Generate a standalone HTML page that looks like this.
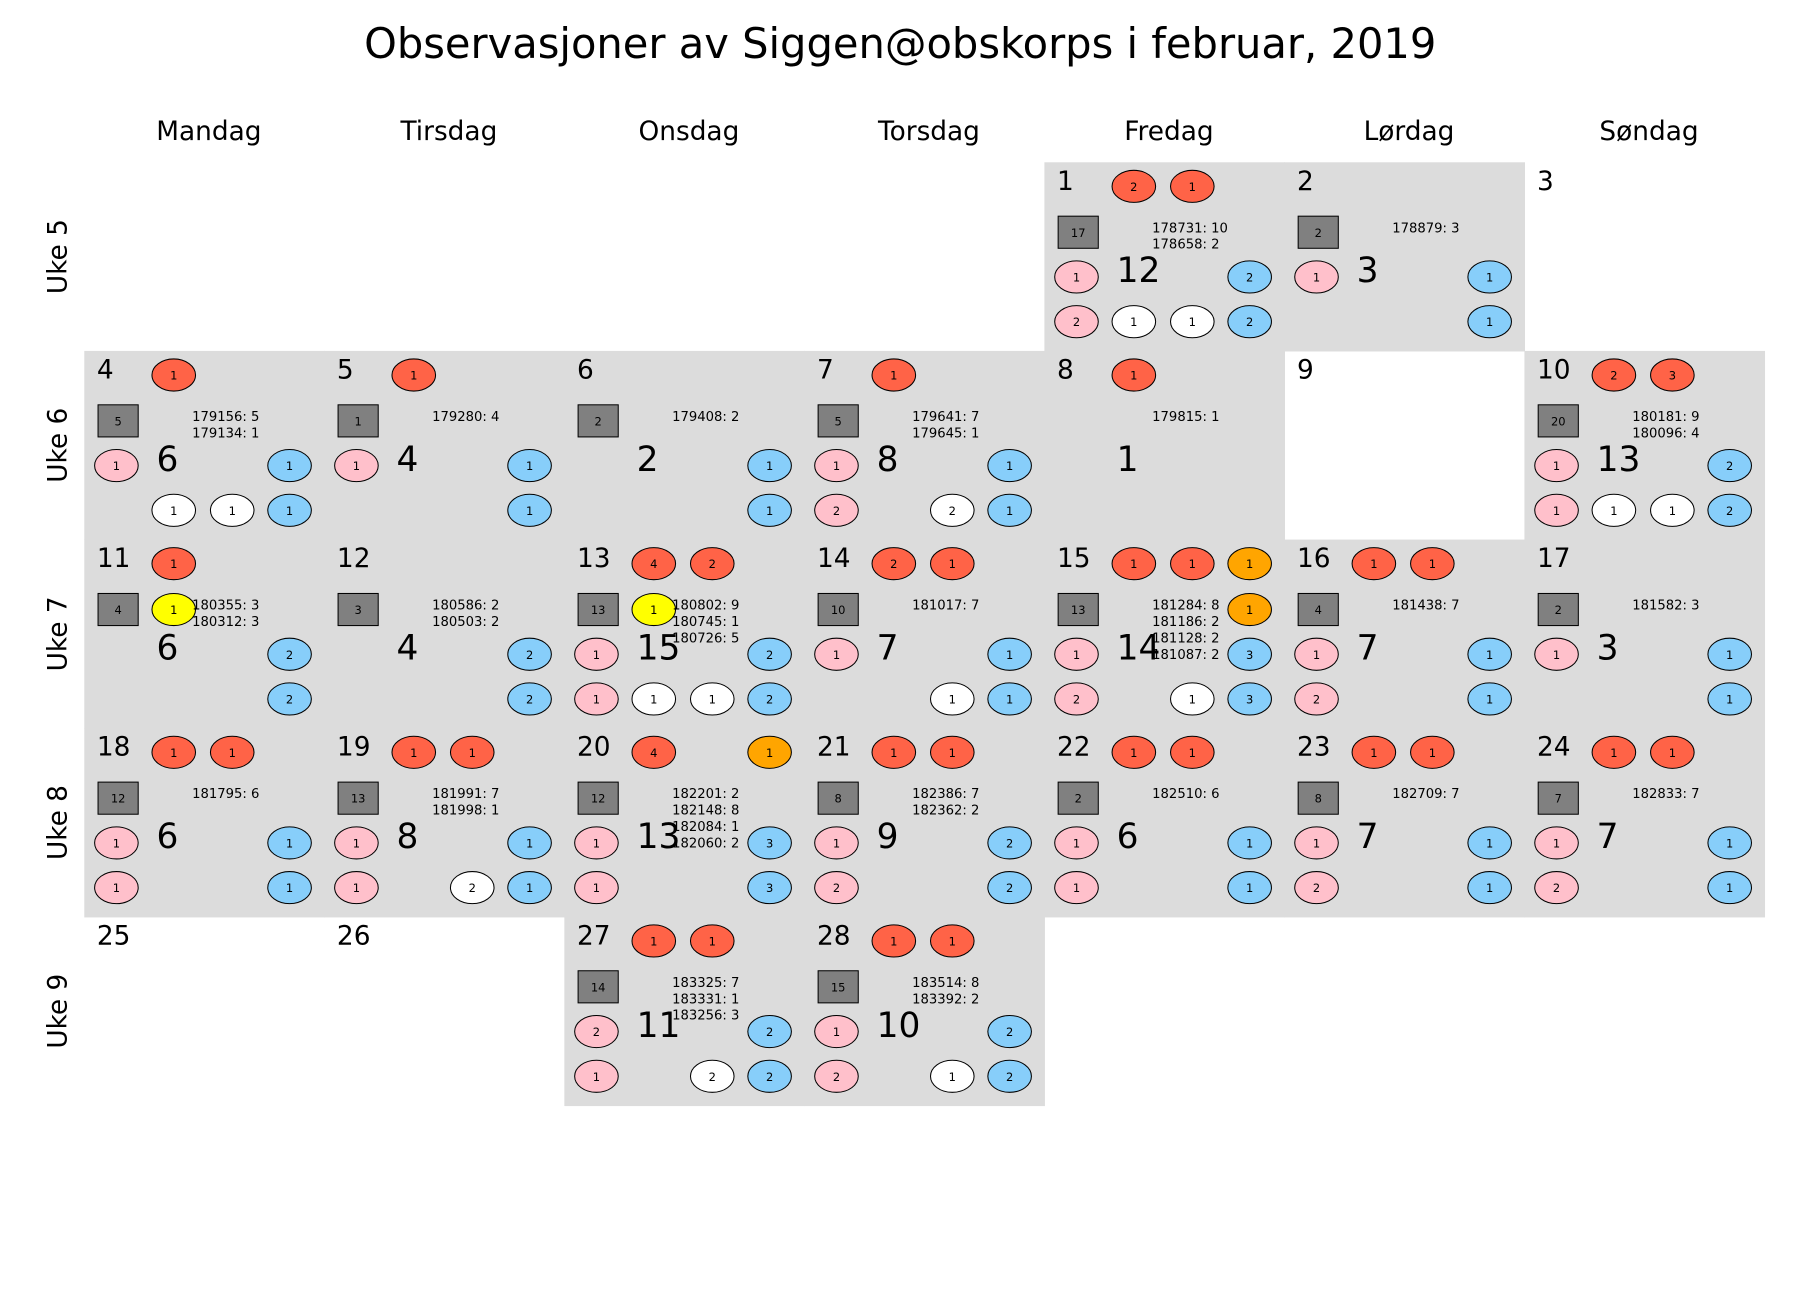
<!DOCTYPE html>
<html><head><meta charset="utf-8"><style>
html,body{margin:0;padding:0;background:#fff;}
svg{display:block;font-family:"DejaVu Sans","Liberation Sans",sans-serif;}
</style></head><body>
<svg id="cal" width="1800" height="1300" viewBox="0 0 1569.6 1133.6" xmlns="http://www.w3.org/2000/svg">
<text x="785" y="38" font-size="36.3" text-anchor="middle" dominant-baseline="central">Observasjoner av Siggen@obskorps i februar, 2019</text>
</svg>
<script>
const weekdays=["Mandag","Tirsdag","Onsdag","Torsdag","Fredag","Lørdag","Søndag"];
const weekLabels=["Uke 5","Uke 6","Uke 7","Uke 8","Uke 9"];
const days=[1,2,3,4,5,6,7,8,9,10,11,12,13,14,15,16,17,18,19,20,21,22,23,24,25,26,27,28];
const dayRow=[0,0,0,1,1,1,1,1,1,1,2,2,2,2,2,2,2,3,3,3,3,3,3,3,4,4,4,4];
const dayCol=[4,5,6,0,1,2,3,4,5,6,0,1,2,3,4,5,6,0,1,2,3,4,5,6,0,1,2,3];
const active=[1,1,0,1,1,1,1,1,0,1,1,1,1,1,1,1,1,1,1,1,1,1,1,1,0,0,1,1];
const topVals=[[2,1,null],[null,null,null],null,[1,null,null],[1,null,null],null,[1,null,null],[1,null,null],null,[2,3,null],
 [1,null,null],null,[4,2,null],[2,1,null],[1,1,1],[1,1,null],null,[1,1,null],[1,1,null],[4,null,1],[1,1,null],[1,1,null],[1,1,null],[1,1,null],null,null,[1,1,null],[1,1,null]];
const topColors=[null,null,null,null,null,null,null,null,null,null,null,null,null,null,"o",null,null,null,null,"o",null,null,null,null,null,null,null,null];
const squares=[17,2,null,5,1,2,5,null,null,20,4,3,13,10,13,4,2,12,13,12,8,2,8,7,null,null,14,15];
const yellows=[null,null,null,null,null,null,null,null,null,null,1,null,1,null,null,null,null,null,null,null,null,null,null,null,null,null,null,null];
const midOrange=[null,null,null,null,null,null,null,null,null,null,null,null,null,null,1,null,null,null,null,null,null,null,null,null,null,null,null,null];
const textLines=[["178731: 10","178658: 2"],["178879: 3"],[],["179156: 5","179134: 1"],["179280: 4"],["179408: 2"],["179641: 7","179645: 1"],["179815: 1"],[],["180181: 9","180096: 4"],
 ["180355: 3","180312: 3"],["180586: 2","180503: 2"],["180802: 9","180745: 1","180726: 5"],["181017: 7"],["181284: 8","181186: 2","181128: 2","181087: 2"],["181438: 7"],["181582: 3"],
 ["181795: 6"],["181991: 7","181998: 1"],["182201: 2","182148: 8","182084: 1","182060: 2"],["182386: 7","182362: 2"],["182510: 6"],["182709: 7"],["182833: 7"],[],[],["183325: 7","183331: 1","183256: 3"],["183514: 8","183392: 2"]];
const pinkTop=[1,1,null,1,1,null,1,null,null,1,null,null,1,1,1,1,1,1,1,1,1,1,1,1,null,null,2,1];
const pinkBot=[2,null,null,null,null,null,2,null,null,1,null,null,1,null,2,2,null,1,1,1,2,1,2,2,null,null,1,2];
const bigNums=[12,3,null,6,4,2,8,1,null,13,6,4,15,7,14,7,3,6,8,13,9,6,7,7,null,null,11,10];
const blueTop=[2,1,null,1,1,1,1,null,null,2,2,2,2,1,3,1,1,1,1,3,2,1,1,1,null,null,2,2];
const blueBot=[2,1,null,1,1,1,1,null,null,2,2,2,2,1,3,1,1,1,1,3,2,1,1,1,null,null,2,2];
const white1=[1,null,null,1,null,null,null,null,null,1,null,null,1,null,null,null,null,null,null,null,null,null,null,null,null,null,null,null];
const white2=[1,null,null,1,null,null,2,null,null,1,null,null,1,1,1,null,null,null,2,null,null,null,null,null,null,null,2,1];

const NS="http://www.w3.org/2000/svg";
const svg=document.getElementById('cal');
const X0=73.5, CW=209.3, Y0=141.5, RH=164.5;
const xCol=c=>X0+c*CW, yRow=r=>Y0+r*RH;
function mk(tag,attrs,parent){const e=document.createElementNS(NS,tag);for(const k in attrs)e.setAttribute(k,attrs[k]);(parent||svg).appendChild(e);return e;}
function txt(x,y,s,size,anchor,parent){const t=mk('text',{x:x,y:y,'font-size':size,'text-anchor':anchor||'start','dominant-baseline':'central'},parent);t.textContent=s;return t;}

weekdays.forEach((d,i)=>{
  const t=txt(xCol(i)+CW/2+4,115,d,23,'middle');
  
  
});
weekLabels.forEach((w,i)=>{
  const cy=yRow(i)+RH/2;
  const t=txt(0,0,w,23,'middle');
  t.setAttribute('transform','translate(51,'+cy+') rotate(-90)');
  
  
});

function ell(g,cx,cy,fill,val,name){
  const e=mk('ellipse',{cx:cx,cy:cy,rx:19,ry:14,fill:fill,stroke:'#000','stroke-width':0.9},g);
  
  
  txt(cx,cy+0.5,String(val),10,'middle',g);
}
const SX=[28,78,129,179];
days.forEach((d,i)=>{
  const x=xCol(dayCol[i]), y=yRow(dayRow[i]);
  const g=mk('g',{});
  
  
  if(active[i]){
    const r=mk('rect',{x:x,y:y,width:CW+0.5,height:RH+0.5,fill:'#dcdcdc'},g);
    
    
  }
  const dn=txt(x+11,y+17,String(d),23,'start',g);
  
  
  const tv=topVals[i];
  if(tv) tv.forEach((v,k)=>{ if(v!=null){ const col=(k===2&&topColors[i]==='o')?'#ffa500':'#ff6347'; ell(g,x+SX[k+1],y+21,col,v,'top-marker'); } });
  if(squares[i]!=null){
    const s=mk('rect',{x:x+12,y:y+47,width:35,height:28,fill:'#808080',stroke:'#000','stroke-width':0.9},g);
    
    
    txt(x+29.5,y+61.5,String(squares[i]),10,'middle',g);
  }
  if(yellows[i]!=null) ell(g,x+78,y+61,'#ffff00',yellows[i],'yellow-marker');
  if(midOrange[i]!=null) ell(g,x+179,y+61,'#ffa500',midOrange[i],'mid-orange-marker');
  textLines[i].forEach((l,k)=>{
    const t=txt(x+94,y+58+k*14.3,l,11.5,'start',g);
    
    
  });
  if(pinkTop[i]!=null) ell(g,x+28,y+100,'#ffc0cb',pinkTop[i],'pink-marker');
  if(pinkBot[i]!=null) ell(g,x+28,y+139,'#ffc0cb',pinkBot[i],'pink-marker');
  if(bigNums[i]!=null){
    const b=txt(x+63,y+95,String(bigNums[i]),30,'start',g);
    
    
  }
  if(blueTop[i]!=null) ell(g,x+179,y+100,'#87cefa',blueTop[i],'blue-marker');
  if(blueBot[i]!=null) ell(g,x+179,y+139,'#87cefa',blueBot[i],'blue-marker');
  if(white1[i]!=null) ell(g,x+78,y+139,'#ffffff',white1[i],'white-marker');
  if(white2[i]!=null) ell(g,x+129,y+139,'#ffffff',white2[i],'white-marker');
});
</script>
</body></html>
